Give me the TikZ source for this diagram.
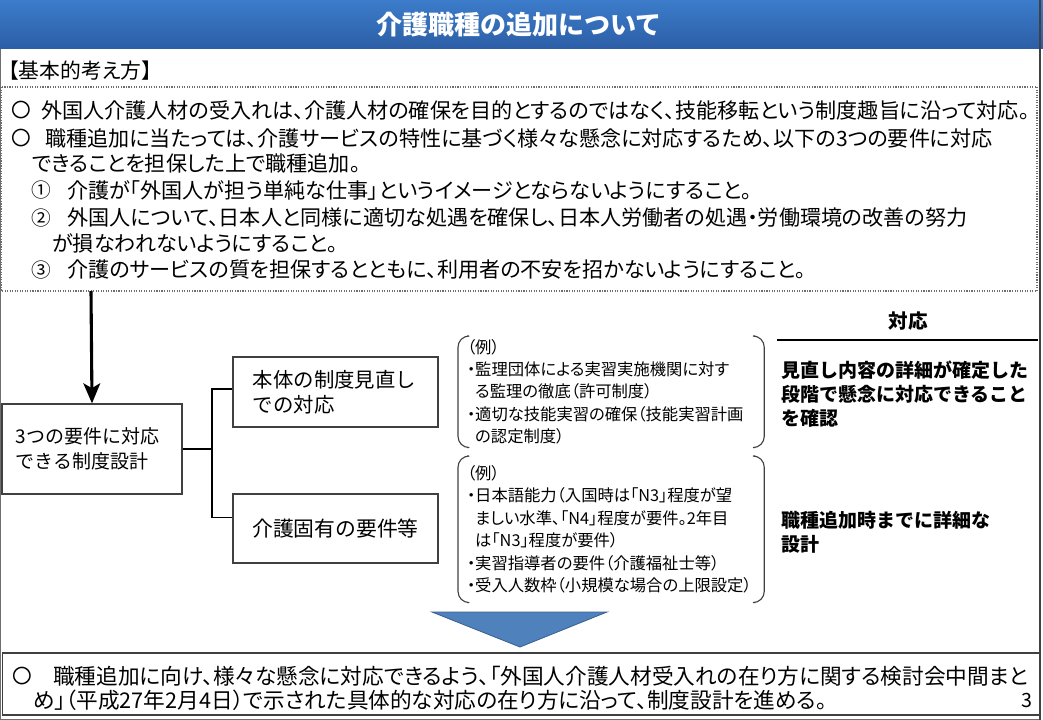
\documentclass[tikz,border=0pt]{standalone}
\usepackage{fontspec}
\setmainfont{Noto Sans CJK JP}
\newfontfamily\propjp[RawFeature=+palt]{Noto Sans CJK JP}
\usepackage{xcolor}
\usetikzlibrary{arrows.meta,calc,positioning}
\definecolor{titleblue}{RGB}{60,124,202}
\definecolor{titledark}{RGB}{44,94,166}
\definecolor{triblue}{RGB}{79,129,189}
\definecolor{tridark}{RGB}{58,96,142}
\definecolor{boxgray}{RGB}{64,64,64}
\definecolor{framegray}{RGB}{110,110,110}

\begin{document}
\begin{tikzpicture}[x=0.025cm, y=-0.025cm,
  bodytext/.style={anchor=west, inner sep=0pt, font=\propjp\fontsize{15}{18}\selectfont},
  circmark/.style={inner sep=0pt, font=\fontsize{14}{17}\selectfont},
  sysbox/.style={draw=boxgray, line width=0.9pt, inner sep=0pt},
  examples/.style={anchor=north west, inner xsep=0.22cm, inner ysep=0pt, text width=7.2cm, align=left, font=\propjp\fontsize{11.6}{15.9}\selectfont},
  brk/.style={draw=boxgray, line width=0.8pt, rounded corners=0.28cm},
  answer/.style={anchor=west, inner sep=0pt, align=left, font=\bfseries\fontsize{13.5}{17.2}\selectfont},
  branch/.style={draw=black, line width=0.8pt}]
\useasboundingbox (0,0) rectangle (1043,720);

% Title bar and frame
\shade[top color=titleblue, bottom color=titledark] (0,0) rectangle (1043,49);
\node[text=white, font=\bfseries\fontsize{18.5}{22}\selectfont] (title) at (519,25) {介護職種の追加について};
\draw[framegray, line width=0.8pt] (0.5,49) -- (0.5,719.5) -- (1040,719.5);
\draw[boxgray, line width=2pt] (1040,0) -- (1040,720);

% Basic policy
\node[anchor=west, inner sep=0pt, font=\propjp\fontsize{14.8}{16}\selectfont] (kihon) at (8,71) {【基本的考え方】};
\draw[framegray, densely dotted, line width=0.8pt] (1,87) rectangle (1037,291);

\node[circmark] (m1) at (21,110) {〇};
\node[bodytext] (t1) at (41,110) {外国人介護人材の受入れは、介護人材の確保を目的とするのではなく、技能移転という制度趣旨に沿って対応。};
\node[circmark] (m2) at (21,138) {〇};
\node[bodytext] (t2) at (45,138) {職種追加に当たっては、介護サービスの特性に基づく様々な懸念に対応するため、以下の3つの要件に対応};
\node[bodytext] (t2b) at (32,163) {できることを担保した上で職種追加。};
\node[circmark] (n1) at (41,190) {①};
\node[bodytext] (r1) at (67,190) {介護が「外国人が担う単純な仕事」というイメージとならないようにすること。};
\node[circmark] (n2) at (41,218) {②};
\node[bodytext] (r2) at (67,218) {外国人について、日本人と同様に適切な処遇を確保し、日本人労働者の処遇・労働環境の改善の努力};
\node[bodytext] (r2b) at (52,243) {が損なわれないようにすること。};
\node[circmark] (n3) at (41,270) {③};
\node[bodytext] (r3) at (67,270) {介護のサービスの質を担保するとともに、利用者の不安を招かないようにすること。};

% System design
\node[sysbox, minimum width=4.5cm, minimum height=2.25cm, text width=3.8cm, align=left, font=\fontsize{13.5}{17.8}\selectfont] (req) at (92,449) {3つの要件に対応\\できる制度設計};
\node[sysbox, minimum width=5.125cm, minimum height=1.75cm, text width=4.125cm, align=left, font=\fontsize{14.5}{17.8}\selectfont] (hontai) at (335.5,392) {本体の制度見直し\\での対応};
\node[sysbox, minimum width=5.125cm, minimum height=1.725cm, font=\fontsize{14.8}{18}\selectfont] (kaigo) at (335.5,528.5) {介護固有の要件等};

\coordinate (dotbottom) at (91,291);
\draw[-{Stealth[length=0.5cm,width=0.42cm,inset=0.12cm]}, line width=2.2pt] (dotbottom) -- (req.north);

\coordinate (fork) at (212,449);
\draw[branch] (req.east) -- (fork);
\draw[branch] (fork) |- ($(hontai.west)+(0,-3)$);
\draw[branch] (fork) |- ($(kaigo.west)+(0,-11)$);

% Examples
\node[examples, minimum height=2.775cm] (ex1) at (458,336) {（例）\\・監理団体による実習実施機関に対す\\\hspace{0.5em}る監理の徹底（許可制度）\\・適切な技能実習の確保（技能実習計画\\\hspace{0.5em}の認定制度）};
\node[examples, minimum height=3.65cm] (ex2) at (458,456) {（例）\\・日本語能力（入国時は「N3」程度が望\\\hspace{0.5em}ましい水準、「N4」程度が要件。2年目\\\hspace{0.5em}は「N3」程度が要件）\\・実習指導者の要件（介護福祉士等）\\・受入人数枠（小規模な場合の上限設定）};
\draw[brk] ($(ex1.north west)+(9,0)$) -- (ex1.north west) -- (ex1.south west) -- ($(ex1.south west)+(9,0)$);
\draw[brk] ($(ex1.north east)+(-9,0)$) -- (ex1.north east) -- (ex1.south east) -- ($(ex1.south east)+(-9,0)$);
\draw[brk] ($(ex2.north west)+(9,0)$) -- (ex2.north west) -- (ex2.south west) -- ($(ex2.south west)+(9,0)$);
\draw[brk] ($(ex2.north east)+(-9,0)$) -- (ex2.north east) -- (ex2.south east) -- ($(ex2.south east)+(-9,0)$);

% Response column
\node[font=\bfseries\fontsize{13.9}{17}\selectfont] (taiou) at (908,321) {対応};
\draw[black, line width=0.9pt] (777,340) -- (1038,340);
\node[answer] (ans1) at (781,394) {見直し内容の詳細が確定した\\段階で懸念に対応できること\\を確認};
\node[answer] (ans2) at (781,532.5) {職種追加時までに詳細な\\設計};

% Conclusion
\fill[triblue, draw=tridark, line width=0.6pt] (432,612) -- (607,612) -- (520,647) -- cycle;
\node[sysbox, minimum width=25.925cm, minimum height=1.55cm] (concl) at (521.5,684) {};
\node[circmark] (m3) at (22,676) {〇};
\node[bodytext, font=\propjp\fontsize{15.4}{17}\selectfont] (c1) at (53,676) {職種追加に向け、様々な懸念に対応できるよう、「外国人介護人材受入れの在り方に関する検討会中間まと};
\node[bodytext, font=\propjp\fontsize{15.4}{17}\selectfont] (c2) at (33,700) {め」（平成27年2月4日）で示された具体的な対応の在り方に沿って、制度設計を進める。};
\node[circmark] (pageno) at (1027,700) {3};
\end{tikzpicture}
\end{document}
